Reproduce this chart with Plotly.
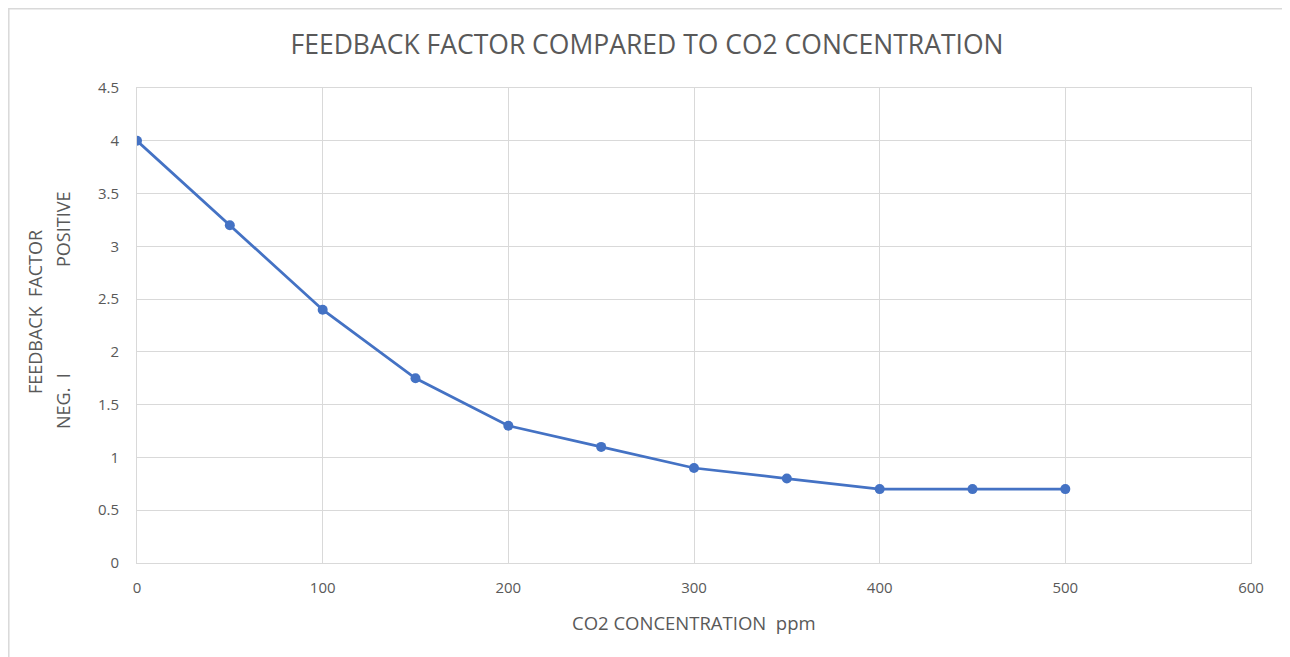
import plotly.graph_objects as go

co2_ppm = [0, 50, 100, 150, 200, 250, 300, 350, 400, 450, 500]
feedback = [4.0, 3.2, 2.4, 1.75, 1.3, 1.1, 0.9, 0.8, 0.7, 0.7, 0.7]
x_ticks = [0, 100, 200, 300, 400, 500, 600]
y_ticks = [0, 0.5, 1, 1.5, 2, 2.5, 3, 3.5, 4, 4.5]
y_tick_text = ["0", "0.5", "1", "1.5", "2", "2.5", "3", "3.5", "4", "4.5"]

FONT = "Open Sans"
GRAY = "#595959"

OFF = 8  # page body margin
W, H = 1290 - OFF, 657 - OFF
L, T = 137 - OFF, 88 - OFF
R = W - (1251 - OFF)
B = H - (563 - OFF)
pw, ph = W - L - R, H - T - B

def px(x):
    return (x - OFF - L) / pw

def py(y):
    return (H - B - (y - OFF)) / ph

fig = go.Figure()
fig.add_trace(go.Scatter(
    x=co2_ppm, y=feedback, mode="lines+markers",
    line=dict(color="#4472C4", width=2.75),
    marker=dict(color="#4472C4", size=10),
    showlegend=False,
))

ann = dict(xref="paper", yref="paper", showarrow=False,
           xanchor="center", yanchor="middle")

fig.update_layout(
    width=W, height=H,
    margin=dict(l=L, r=R, t=T, b=B),
    paper_bgcolor="white", plot_bgcolor="white",
    font=dict(family=FONT, color=GRAY, size=14),
    title=dict(text="FEEDBACK FACTOR COMPARED TO CO2 CONCENTRATION",
               x=px(647), xref="paper", xanchor="center",
               y=1 - (45 - OFF) / H, yanchor="middle",
               font=dict(family=FONT, size=26.5, color=GRAY)),
    xaxis=dict(range=[0, 600], tickvals=x_ticks, ticktext=[str(v) for v in x_ticks],
               showgrid=True, gridcolor="#d9d9d9", gridwidth=1,
               zeroline=False, showline=True, linecolor="#d9d9d9", mirror=True,
               ticks="", ticklabelstandoff=11,
               tickfont=dict(size=15, color=GRAY)),
    yaxis=dict(range=[0, 4.5], tickvals=y_ticks, ticktext=y_tick_text,
               showgrid=True, gridcolor="#d9d9d9", gridwidth=1,
               zeroline=False, showline=True, linecolor="#d9d9d9", mirror=True,
               ticks="", ticklabelstandoff=14,
               tickfont=dict(size=15, color=GRAY)),
    shapes=[dict(type="rect", xref="paper", yref="paper",
                 x0=px(8.8), x1=px(1320), y0=py(8.8), y1=py(690),
                 line=dict(color="#d9d9d9", width=1.5), fillcolor="rgba(0,0,0,0)")],
    annotations=[
        dict(text="CO2 CONCENTRATION&nbsp;&nbsp;ppm", x=px(694), y=py(622),
             font=dict(size=18.5, color=GRAY), **ann),
        dict(text="FEEDBACK&nbsp;&nbsp;FACTOR", textangle=-90, x=px(35), y=py(312),
             font=dict(size=18, color=GRAY), **ann),
        dict(text="POSITIVE", textangle=-90, x=px(63), y=py(230),
             font=dict(size=18, color=GRAY), **ann),
        dict(text="NEG.&nbsp;&nbsp;I", textangle=-90, x=px(63), y=py(401),
             font=dict(size=18, color=GRAY), **ann),
    ],
)

fig.write_html("out.html")
